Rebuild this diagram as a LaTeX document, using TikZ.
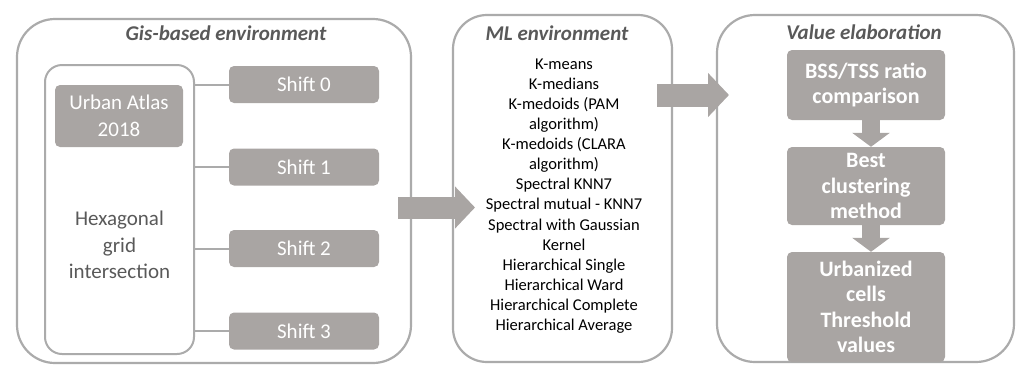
\documentclass[tikz,border=0pt]{standalone}
\usepackage{fontspec}
\setmainfont{Carlito}
\usetikzlibrary{arrows.meta,positioning}
\definecolor{boxfill}{HTML}{A9A5A3}
\definecolor{boxline}{HTML}{ABABAB}
\definecolor{titletxt}{HTML}{595959}

\begin{document}
\begin{tikzpicture}[
  x=1pt, y=-1pt,
  panel/.style={
    draw=boxline,
    line width=2.2pt,
    rounded corners=38pt,
    inner sep=0pt
  },
  inbox/.style={draw=boxline, line width=2pt, rounded corners=17pt, inner sep=0pt},
  gbox/.style={fill=boxfill, text=white, rounded corners=5pt, inner sep=0pt, align=center},
  ttl/.style={text=titletxt, font=\fontsize{21}{25}\selectfont\bfseries\itshape},
  lft/.style={font=\fontsize{21}{26.5}\selectfont},
  rgt/.style={font=\fontsize{22}{25.5}\selectfont\bfseries},
  lst/.style={align=center, font=\fontsize{16.5}{20.1}\selectfont},
  link/.style={draw=boxline, line width=2pt},
  bigarrow/.style={draw=boxfill, line width=22pt, -{Triangle[length=20pt, width=41pt]}},
  downarrow/.style={draw=boxfill, line width=18pt, -{Triangle[length=14pt, width=37pt]}}
]
\useasboundingbox (0,0) rectangle (1018,365);

% --- GIS panel ---
\node[panel, minimum width=394pt, minimum height=344pt] (gis) at (214,191) {};
\node[ttl] (gistitle) at (226,33) {Gis-based environment};
\node[inbox, minimum width=149pt, minimum height=289pt] (hexbox) at (119.5,209.5) {};
\node[gbox, lft, minimum width=128pt, minimum height=62pt] (atlas) at (119,116) {Urban Atlas\\2018};
\node[lft, align=center, text=titletxt] (hextxt) at (119.5,245) {Hexagonal\\grid\\intersection};

\foreach \i/\y in {0/84.5, 1/167, 2/248.5, 3/331} {
  \node[gbox, lft, minimum width=150pt, minimum height=37pt] (shift\i) at (304,\y) {Shift \i};
  \draw[link] (hexbox.east |- shift\i) -- (shift\i);
}

% --- ML panel ---
\node[panel, rounded corners=34pt, minimum width=219pt, minimum height=347pt] (ml) at (562.5,188.5) {};
\node[ttl] (mltitle) at (557,33) {ML environment};
\node[lst] (methods) at (564,196) {K-means\\K-medians\\K-medoids (PAM\\algorithm)\\K-medoids (CLARA\\algorithm)\\Spectral KNN7\\Spectral mutual - KNN7\\Spectral with Gaussian\\Kernel\\Hierarchical Single\\Hierarchical Ward\\Hierarchical Complete\\Hierarchical Average};

% --- Value panel ---
\node[panel, minimum width=297pt, minimum height=347pt] (val) at (865.5,188.5) {};
\node[ttl] (valtitle) at (864,32) {Value elaboration};
\node[gbox, rgt, minimum width=158pt, minimum height=70pt] (bss) at (866,85) {BSS/TSS ratio\\comparison};
\node[gbox, rgt, minimum width=158pt, minimum height=78pt] (best) at (866,186) {Best\\clustering\\method};
\node[gbox, rgt, minimum width=158pt, minimum height=110pt] (urban) at (866,307) {Urbanized\\cells\\Threshold\\values};
\draw[downarrow] ([xshift=5pt]bss.south) -- ([xshift=5pt]best.north);
\draw[downarrow] ([xshift=5pt]best.south) -- ([xshift=5pt]urban.north);

% --- block arrows ---
\coordinate (gisout) at (398,207.5);
\coordinate (mlin) at (475,207.5);
\draw[bigarrow] (gisout) -- (mlin);
\coordinate (mlout) at (657,95);
\coordinate (valin) at (729,95);
\draw[bigarrow, line width=23pt, -{Triangle[length=21pt, width=43pt]}] (mlout) -- (valin);

\end{tikzpicture}
\end{document}
